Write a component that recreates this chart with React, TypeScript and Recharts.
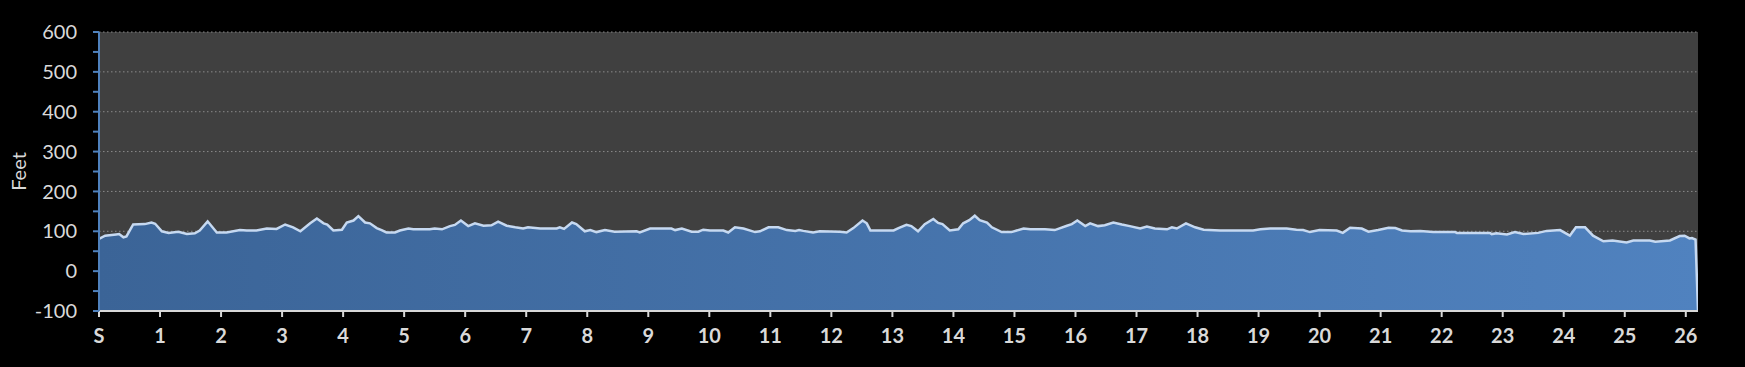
import React from "react";
import {
  AreaChart,
  Area,
  XAxis,
  YAxis,
  CartesianGrid,
  Label,
} from "recharts";

// course distance (miles) and elevation (feet)
const miles = [
  0.0, 0.1, 0.28, 0.33, 0.4, 0.45, 0.56, 0.75, 0.86, 0.92, 1.03, 1.14, 1.3, 1.44, 1.57, 1.65, 1.78, 1.93,
  2.09, 2.31, 2.42, 2.58, 2.75, 2.91, 3.05, 3.18, 3.3, 3.46, 3.57, 3.68, 3.74, 3.84, 3.98, 4.06, 4.17,
  4.25, 4.36, 4.44, 4.55, 4.63, 4.71, 4.85, 4.93, 5.07, 5.15, 5.42, 5.5, 5.62, 5.75, 5.83, 5.93, 6.05,
  6.16, 6.3, 6.43, 6.54, 6.68, 6.82, 6.95, 7.03, 7.23, 7.5, 7.55, 7.62, 7.75, 7.82, 7.96, 8.05, 8.15,
  8.29, 8.45, 8.81, 8.86, 9.03, 9.38, 9.44, 9.55, 9.71, 9.82, 9.9, 10.01, 10.23, 10.31, 10.42, 10.56,
  10.75, 10.83, 10.97, 11.13, 11.27, 11.41, 11.47, 11.54, 11.7, 11.81, 12.14, 12.25, 12.36, 12.51, 12.58,
  12.64, 13.02, 13.1, 13.23, 13.31, 13.42, 13.53, 13.67, 13.75, 13.82, 13.94, 14.08, 14.16, 14.26,
  14.35, 14.43, 14.55, 14.63, 14.79, 14.95, 15.15, 15.26, 15.5, 15.66, 15.86, 15.94, 16.03, 16.16,
  16.24, 16.37, 16.48, 16.62, 16.76, 16.89, 17.06, 17.17, 17.3, 17.5, 17.58, 17.66, 17.81, 17.96, 18.1,
  18.37, 18.91, 19.03, 19.19, 19.46, 19.62, 19.73, 19.84, 20.0, 20.28, 20.38, 20.5, 20.69, 20.8, 20.96,
  21.13, 21.24, 21.35, 21.49, 21.65, 21.86, 22.22, 22.25, 22.79, 22.82, 22.9, 23.07, 23.2, 23.34,
  23.58, 23.72, 23.94, 24.1, 24.2, 24.3, 24.35, 24.48, 24.65, 24.8, 25.03, 25.14, 25.41, 25.5, 25.74,
  25.9, 25.98, 26.06, 26.1, 26.16, 26.2,
];

const feet = [
  81, 89, 92, 93, 85, 87, 117, 118, 122, 119, 100, 96, 99, 93, 95, 102, 125, 97,
  97, 103, 102, 102, 107, 106, 117, 110, 100, 120, 132, 120, 117, 102, 104, 122, 127,
  138, 122, 120, 108, 103, 97, 97, 102, 107, 105, 105, 107, 105, 113, 116, 127, 113,
  120, 114, 115, 124, 114, 110, 107, 110, 107, 107, 110, 106, 122, 118, 100, 103, 98,
  103, 99, 100, 97, 107, 107, 103, 107, 99, 99, 104, 102, 102, 97, 110, 107,
  98, 100, 110, 110, 103, 101, 103, 101, 97, 100, 99, 97, 108, 127, 120,
  102, 102, 108, 116, 113, 100, 118, 131, 121, 118, 102, 105, 120, 128,
  139, 128, 122, 110, 98, 98, 107, 105, 105, 103, 114, 118, 127, 113,
  120, 113, 115, 122, 117, 113, 107, 112, 107, 105, 110, 107, 120, 110, 104,
  102, 102, 105, 107, 107, 104, 103, 98, 103, 102, 96, 109, 107, 99, 103,
  109, 108, 102, 100, 101, 98, 98, 96, 96, 93, 95, 92, 98, 93,
  96, 101, 103, 89, 110, 110, 110, 89, 75, 77, 72, 77, 77, 74, 77,
  88, 89, 82, 83, 79, -100,
];

const mileTicks = [0, 1, 2, 3, 4, 5, 6, 7, 8, 9, 10, 11, 12, 13, 14, 15, 16, 17, 18, 19, 20, 21, 22, 23, 24, 25, 26];
const feetTicks = [-100, -50, 0, 50, 100, 150, 200, 250, 300, 350, 400, 450, 500, 550, 600];
const gridValues = [-100, 0, 100, 200, 300, 400, 500, 600];

const data = miles.map((m, i) => ({ mile: m, elev: feet[i] }));

const FONT = "Lato, 'Open Sans', sans-serif";
const TEXT = "#d9d9d9";

export default function App() {
  return (
    <div style={{ width: 1745, height: 367, background: "#000" }}>
      <style>{`body{margin:0;background:#000;overflow:hidden}`}</style>
      <AreaChart
        width={1745}
        height={367}
        data={data}
        margin={{ top: 32, right: 47, bottom: 26, left: 0 }}
      >
        <defs>
          <linearGradient id="elevFill" x1="0" y1="0" x2="1" y2="0">
            <stop offset="0%" stopColor="#3b6497" />
            <stop offset="100%" stopColor="#5082bf" />
          </linearGradient>
        </defs>
        <CartesianGrid
          vertical={false}
          horizontalValues={gridValues}
          stroke="#8a8a8a"
          strokeDasharray="1.5 2.5"
          fill="#404040"
          fillOpacity={1}
        />
        <XAxis
          type="number"
          dataKey="mile"
          domain={[0, 26.2]}
          ticks={mileTicks}
          interval={0}
          allowDataOverflow
          tickFormatter={(v: number) => (v === 0 ? "S" : String(v))}
          height={30}
          stroke={TEXT}
          strokeWidth={2}
          tickSize={6}
          tickMargin={12}
          tick={{ fill: TEXT, fontSize: 20, fontWeight: 700, fontFamily: FONT }}
        />
        <YAxis
          type="number"
          domain={[-100, 600]}
          ticks={feetTicks}
          interval={0}
          allowDataOverflow
          width={99}
          tickFormatter={(v: number) => (v % 100 === 0 ? String(v) : "")}
          stroke="#4f81bd"
          strokeWidth={2}
          tickSize={6}
          tickMargin={16}
          tick={{ fill: TEXT, fontSize: 20, fontFamily: FONT }}
        >
          <Label
            content={({ viewBox }: any) => {
              const cy = viewBox.y + viewBox.height / 2;
              return (
                <text
                  x={18}
                  y={cy}
                  transform={`rotate(-90, 18, ${cy})`}
                  textAnchor="middle"
                  dominantBaseline="central"
                  fill={TEXT}
                  fontSize={20}
                  fontFamily={FONT}
                >
                  Feet
                </text>
              );
            }}
          />
        </YAxis>
        <Area
          type="linear"
          dataKey="elev"
          baseValue="dataMin"
          stroke="#c6d9f1"
          strokeWidth={2.5}
          fill="url(#elevFill)"
          fillOpacity={1}
          dot={false}
          activeDot={false}
          isAnimationActive={false}
        />
      </AreaChart>
    </div>
  );
}
